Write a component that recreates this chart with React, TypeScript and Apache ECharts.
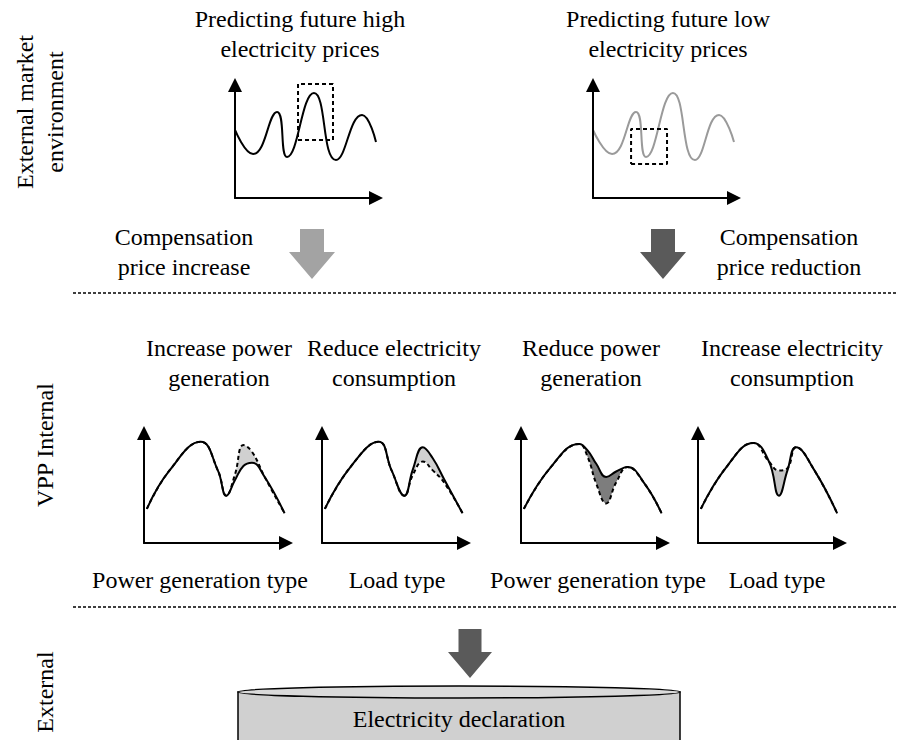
import React, { useEffect, useRef } from "react";
import * as echarts from "echarts";

// ---------------- data ----------------
// Top panels: predicted price curves (x: time 0-100, y: price 0-100)
const highPriceX = [0, 12.8, 29.8, 36.9, 56.0, 71.6, 90.1, 100];
const highPriceY = [60.2, 38.9, 76.1, 36.3, 92.9, 33.6, 73.5, 49.6];
const lowPriceX = [0, 13.5, 30.5, 37.6, 56.7, 72.3, 89.4, 100];
const lowPriceY = [60.2, 38.9, 76.1, 36.3, 92.9, 33.6, 73.5, 49.6];
// dashed highlight boxes [x0, x1], [y0, y1]
const highBoxX = [44.7, 69.5];
const highBoxY = [51.3, 100.9];
const lowBoxX = [27.0, 52.5];
const lowBoxY = [30.1, 61.1];

// Bottom panels: original curve (solid) and adjusted curve (dashed)
const incGenX = [2, 18, 40, 52, 58, 64, 70, 76, 85, 99];
const incGenBase = [31, 66, 92, 66, 43, 57, 70, 73, 60, 27];
const incGenPlan = [31, 66, 92, 66, 43, 62, 89, 83, 60, 27];

const redConX = [2, 20, 40, 49, 58, 64, 71, 78, 86, 99];
const redConBase = [31, 69, 92, 66, 43, 67, 87, 77, 58, 27];
const redConPlan = [31, 69, 92, 66, 43, 62, 74, 66, 55, 27];

const redGenX = [2, 21, 41, 47, 53, 60, 67, 75, 87, 99];
const redGenBase = [31, 69, 90, 84, 72, 60, 65, 69, 54, 27];
const redGenPlan = [31, 69, 90, 78, 54, 36, 55, 69, 54, 27];

const incConX = [2, 20, 39, 50, 57, 63, 69, 82, 98];
const incConBase = [31, 69, 91, 74, 43, 66, 87, 66, 27];
const incConPlan = [31, 69, 91, 74, 66, 68, 87, 66, 27];

// Texts
const priceTitles = ["Predicting future high\nelectricity prices", "Predicting future low\nelectricity prices"];
const compensationLabels = ["Compensation\nprice increase", "Compensation\nprice reduction"];
const actionLabels = [
  "Increase power\ngeneration",
  "Reduce electricity\nconsumption",
  "Reduce power\ngeneration",
  "Increase electricity\nconsumption",
];
const typeLabels = ["Power generation type", "Load type", "Power generation type", "Load type"];
const sectionLabels = ["External market\nenvironment", "VPP Internal", "External"];
const declarationLabel = "Electricity declaration";

// ---------------- layout ----------------
const FONT = '"Liberation Serif", "Times New Roman", serif';
const FS = 24;
const SMOOTH = 0.45;

const grids = [
  { left: 235, top: 85, width: 141, height: 113 },
  { left: 593, top: 85, width: 141, height: 113 },
  { left: 144, top: 433, width: 142, height: 110 },
  { left: 322, top: 433, width: 142, height: 110 },
  { left: 521, top: 433, width: 142, height: 110 },
  { left: 698, top: 433, width: 142, height: 110 },
];

const zip = (xs: number[], ys: number[]) => xs.map((x, i) => [x, ys[i]]);

function axis(gridIndex: number) {
  return {
    type: "value",
    gridIndex,
    min: 0,
    max: 100,
    z: 6,
    axisLine: {
      show: true,
      onZero: false,
      lineStyle: { color: "#000", width: 2 },
      symbol: ["none", "triangle"],
      symbolSize: [14, 14],
    },
    axisTick: { show: false },
    axisLabel: { show: false },
    splitLine: { show: false },
  };
}

// shaded only in the middle part of the panel (keeps the panel ends clean)
function bandFill(color: string) {
  const clear = "rgba(255,255,255,0)";
  return {
    type: "linear",
    x: 0,
    y: 0,
    x2: 1,
    y2: 0,
    colorStops: [
      { offset: 0, color: clear },
      { offset: 0.2, color: clear },
      { offset: 0.2, color },
      { offset: 0.93, color },
      { offset: 0.93, color: clear },
      { offset: 1, color: clear },
    ],
  };
}

// Upper curve gets the shaded area, lower curve paints white over it:
// only the band between the two curves stays shaded.
function panelSeries(idx: number, xs: number[], base: number[], plan: number[], fill: string) {
  const planAbove = plan.some((v, i) => v > base[i]);
  const lo = planAbove ? base : plan;
  const hi = planAbove ? plan : base;
  const common = {
    type: "line",
    xAxisIndex: idx,
    yAxisIndex: idx,
    smooth: SMOOTH,
    showSymbol: false,
    symbol: "none",
    silent: true,
    clip: false,
  };
  return [
    {
      ...common,
      data: zip(xs, hi),
      lineStyle: { width: 0, opacity: 0 },
      areaStyle: { color: bandFill(fill), opacity: 1 },
      z: 1,
    },
    {
      ...common,
      data: zip(xs, lo),
      lineStyle: { width: 0, opacity: 0 },
      areaStyle: { color: bandFill("#ffffff"), opacity: 1 },
      z: 2,
    },
    { ...common, data: zip(xs, plan), lineStyle: { color: "#000", width: 2, type: [4, 3] }, z: 3 },
    { ...common, data: zip(xs, base), lineStyle: { color: "#000", width: 2 }, z: 4 },
  ];
}

function boxData(bx: number[], by: number[]) {
  return [
    [bx[0], by[0]],
    [bx[1], by[0]],
    [bx[1], by[1]],
    [bx[0], by[1]],
    [bx[0], by[0]],
  ];
}

function text(x: number, y: number, t: string, rotation = 0) {
  return {
    type: "text",
    x,
    y,
    rotation,
    silent: true,
    style: {
      text: t,
      fill: "#000",
      font: `${FS}px ${FONT}`,
      textAlign: "center",
      textVerticalAlign: "middle",
      align: "center",
      verticalAlign: "middle",
      lineHeight: 30,
    },
  };
}

function blockArrow(cx: number, top: number, sw: number, sh: number, hw: number, hh: number, color: string) {
  return {
    type: "polygon",
    silent: true,
    shape: {
      points: [
        [cx - sw / 2, top],
        [cx + sw / 2, top],
        [cx + sw / 2, top + sh],
        [cx + hw / 2, top + sh],
        [cx, top + sh + hh],
        [cx - hw / 2, top + sh],
        [cx - sw / 2, top + sh],
      ],
    },
    style: { fill: color },
  };
}

function dashedRule(y: number) {
  return {
    type: "line",
    silent: true,
    shape: { x1: 73, y1: y, x2: 898, y2: y },
    style: { stroke: "#000", lineWidth: 1.5, lineDash: [3, 2] },
  };
}

export default function App() {
  const ref = useRef<HTMLDivElement>(null);

  useEffect(() => {
    document.body.style.margin = "0";
    if (!ref.current) return;
    const chart = echarts.init(ref.current, undefined, { renderer: "svg" });

    const series: any[] = [
      {
        type: "line",
        xAxisIndex: 0,
        yAxisIndex: 0,
        data: zip(highPriceX, highPriceY),
        smooth: 0.5,
        symbol: "none",
        silent: true,
        clip: false,
        lineStyle: { color: "#000", width: 2 },
        z: 3,
      },
      {
        type: "line",
        xAxisIndex: 0,
        yAxisIndex: 0,
        data: boxData(highBoxX, highBoxY),
        symbol: "none",
        silent: true,
        clip: false,
        lineStyle: { color: "#000", width: 2, type: [4, 3] },
        z: 4,
      },
      {
        type: "line",
        xAxisIndex: 1,
        yAxisIndex: 1,
        data: zip(lowPriceX, lowPriceY),
        smooth: 0.5,
        symbol: "none",
        silent: true,
        clip: false,
        lineStyle: { color: "#9a9a9a", width: 2 },
        z: 3,
      },
      {
        type: "line",
        xAxisIndex: 1,
        yAxisIndex: 1,
        data: boxData(lowBoxX, lowBoxY),
        symbol: "none",
        silent: true,
        clip: false,
        lineStyle: { color: "#000", width: 2, type: [4, 3] },
        z: 4,
      },
      ...panelSeries(2, incGenX, incGenBase, incGenPlan, "#d0d0d0"),
      ...panelSeries(3, redConX, redConBase, redConPlan, "#d0d0d0"),
      ...panelSeries(4, redGenX, redGenBase, redGenPlan, "#7d7d7d"),
      ...panelSeries(5, incConX, incConBase, incConPlan, "#c4c4c4"),
    ];

    const graphic: any[] = [
      // section labels (vertical)
      text(40, 112, sectionLabels[0], Math.PI / 2),
      text(45, 445, sectionLabels[1], Math.PI / 2),
      text(45, 692, sectionLabels[2], Math.PI / 2),
      // top titles
      text(300, 34, priceTitles[0]),
      text(668, 34, priceTitles[1]),
      // compensation
      text(184, 252, compensationLabels[0]),
      text(789, 252, compensationLabels[1]),
      blockArrow(312, 229, 24, 23, 46, 27, "#a3a3a3"),
      blockArrow(663, 229, 24, 23, 46, 27, "#5a5a5a"),
      // separators
      dashedRule(293),
      dashedRule(607),
      // action titles
      text(219, 363, actionLabels[0]),
      text(394, 363, actionLabels[1]),
      text(591, 363, actionLabels[2]),
      text(792, 363, actionLabels[3]),
      // type labels
      text(200, 580, typeLabels[0]),
      text(397, 580, typeLabels[1]),
      text(598, 580, typeLabels[2]),
      text(777, 580, typeLabels[3]),
      // bottom arrow
      blockArrow(470, 629, 23, 23, 44, 26, "#5a5a5a"),
      // drum
      {
        type: "rect",
        silent: true,
        shape: { x: 238, y: 692, width: 442, height: 60 },
        style: { fill: "#d0d0d0", stroke: "#000", lineWidth: 1.5 },
      },
      {
        type: "ellipse",
        silent: true,
        shape: { cx: 459, cy: 692, rx: 221, ry: 6 },
        style: { fill: "#dadada", stroke: "#000", lineWidth: 1.5 },
      },
      text(459, 719, declarationLabel),
    ];

    chart.setOption({
      animation: false,
      backgroundColor: "#fff",
      grid: grids.map((g) => ({ ...g, containLabel: false })),
      xAxis: grids.map((_, i) => axis(i)),
      yAxis: grids.map((_, i) => axis(i)),
      series,
      graphic,
    });

    return () => chart.dispose();
  }, []);

  return <div ref={ref} style={{ width: 898, height: 740 }} />;
}
